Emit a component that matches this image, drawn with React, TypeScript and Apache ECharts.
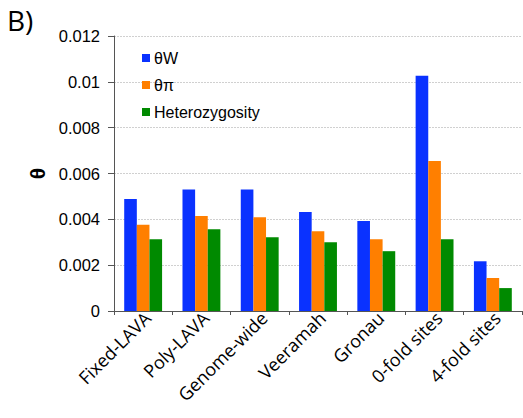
import React, { useEffect, useRef } from "react";
import * as echarts from "echarts";

const categories = ["Fixed-LAVA", "Poly-LAVA", "Genome-wide", "Veeramah", "Gronau", "0-fold sites", "4-fold sites"];
const thetaW = [0.00489, 0.0053, 0.0053, 0.00432, 0.00393, 0.01027, 0.00217];
const thetaPi = [0.00376, 0.00415, 0.00409, 0.00348, 0.00313, 0.00655, 0.00144];
const heterozygosity = [0.00313, 0.00357, 0.00322, 0.003, 0.00261, 0.00313, 0.001];
const yTicks = [0, 0.002, 0.004, 0.006, 0.008, 0.01, 0.012];

export default function App() {
  const ref = useRef<HTMLDivElement>(null);
  useEffect(() => {
    const chart = echarts.init(ref.current!, undefined, { renderer: "svg" });
    const font = "'Liberation Sans', Arial, sans-serif";
    chart.setOption({
      animation: false,
      backgroundColor: "#fff",
      grid: { left: 114, right: 1, top: 36, bottom: 107 },
      legend: {
        orient: "vertical",
        left: 137,
        top: 45,
        itemWidth: 8,
        itemHeight: 8,
        itemGap: 11,
        icon: "rect",
        textStyle: { fontFamily: font, fontSize: 16, color: "#000", padding: [0, 0, 0, -1] },
        data: ["θW", "θπ", "Heterozygosity"],
      },
      graphic: [
        {
          type: "text",
          left: 7,
          top: 6,
          style: { text: "B)", fontFamily: "'Open Sans', sans-serif", fontSize: 28, fill: "#000" },
        },
      ],
      xAxis: {
        type: "category",
        data: categories,
        axisLine: { lineStyle: { color: "#555", width: 1 } },
        axisTick: { show: true, length: 4, lineStyle: { color: "#555" } },
        axisLabel: {
          rotate: 45,
          interval: 0,
          margin: 8,
          padding: [11, -6, 0, 0],
          fontFamily: "'Open Sans', sans-serif",
          fontSize: 18,
          color: "#000",
        },
      },
      yAxis: {
        type: "value",
        min: 0,
        max: 0.012,
        interval: 0.002,
        name: "θ",
        nameLocation: "middle",
        nameGap: 61,
        nameRotate: 90,
        nameTextStyle: { fontFamily: font, fontSize: 21, fontWeight: "bold", color: "#000" },
        axisLine: { show: true, lineStyle: { color: "#555", width: 1 } },
        axisTick: { show: true, length: 6, lineStyle: { color: "#555" } },
        axisLabel: {
          margin: 14,
          fontFamily: font,
          fontSize: 16.5,
          color: "#000",
          formatter: (v: number) => {
            const t = yTicks.find((x) => Math.abs(x - v) < 1e-9);
            return t === undefined ? "" : String(Number(t.toFixed(3)));
          },
        },
        splitLine: { lineStyle: { color: "#d0d0d0", type: [2, 1] } },
      },
      series: [
        { name: "θW", type: "bar", data: thetaW, itemStyle: { color: "#0a32ff" }, barGap: "0%", barCategoryGap: "35%" },
        { name: "θπ", type: "bar", data: thetaPi, itemStyle: { color: "#ff7f00" }, barGap: "0%", barCategoryGap: "35%" },
        { name: "Heterozygosity", type: "bar", data: heterozygosity, itemStyle: { color: "#008a00" }, barGap: "0%", barCategoryGap: "35%" },
      ],
    });
    return () => chart.dispose();
  }, []);
  return <div ref={ref} style={{ width: 523, height: 418, position: "absolute", left: 0, top: 0 }} />;
}
